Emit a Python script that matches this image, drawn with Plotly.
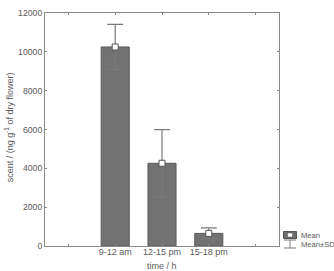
import plotly.graph_objects as go

categories = ["9-12 am", "12-15 pm", "15-18 pm"]
bar_pos = [1, 2, 3]
means = [10250, 4260, 650]
sds = [1160, 1730, 285]
y_ticks = [0, 2000, 4000, 6000, 8000, 10000, 12000]

FONT = "Liberation Sans, Arial, sans-serif"
AX = "#8a8a8a"
TXT = "#5a5a5a"

fig = go.Figure()
fig.add_trace(go.Bar(
    x=bar_pos, y=means, width=0.6,
    marker=dict(color="#727272", line=dict(color="#5a5a5a", width=1)),
    error_y=dict(type="data", array=sds, visible=True, color="#7a7a7a",
                 thickness=1.2, width=8),
    showlegend=False,
))
fig.add_trace(go.Scatter(
    x=bar_pos, y=means, mode="markers",
    marker=dict(symbol="square", size=6, color="white",
                line=dict(color="#555555", width=1)),
    showlegend=False,
))

fig.update_xaxes(
    range=[-0.5, 4.5], tickvals=bar_pos, ticktext=categories,
    ticks="inside", ticklen=2, tickcolor=AX, showline=True, linecolor=AX,
    linewidth=1, mirror="ticks", showgrid=False, zeroline=False,
    minor=dict(tick0=0, dtick=1, ticks="inside", ticklen=2, tickcolor=AX, showgrid=False),
    ticklabelstandoff=-3,
    automargin=False, tickfont=dict(family=FONT, size=9, color=TXT),
)
fig.update_yaxes(
    range=[0, 12000], tickvals=y_ticks, tickformat="d", ticks="inside", ticklen=2,
    tickcolor=AX, showline=True, linecolor=AX, linewidth=1, mirror="ticks",
    showgrid=False, zeroline=False, automargin=False,
    tickfont=dict(family=FONT, size=8.7, color=TXT),
)

W, H = 334, 271
ml, mr, mt, mb = 45, 55, 12.5, 25
pw, ph = W - ml - mr, H - mt - mb
def px(x): return (x - ml) / pw
def py(y): return (H - mb - y) / ph

shapes = [
    dict(type="rect", xref="paper", yref="paper", x0=px(283.5), x1=px(296.5),
         y0=py(238.5), y1=py(231.5), fillcolor="#6e6e6e", line=dict(color="#555555", width=1)),
    dict(type="rect", xref="paper", yref="paper", x0=px(287.5), x1=px(292.5),
         y0=py(237), y1=py(233), fillcolor="white", line=dict(color="#555555", width=0.5)),
    dict(type="line", xref="paper", yref="paper", x0=px(284), x1=px(296),
         y0=py(240), y1=py(240), line=dict(color="#7a7a7a", width=1)),
    dict(type="line", xref="paper", yref="paper", x0=px(290), x1=px(290),
         y0=py(240), y1=py(248), line=dict(color="#7a7a7a", width=1)),
    dict(type="line", xref="paper", yref="paper", x0=px(284), x1=px(296),
         y0=py(248), y1=py(248), line=dict(color="#7a7a7a", width=1)),
]
annotations = [
    dict(text="Mean", xref="paper", yref="paper", x=px(298.5), y=py(235),
         xanchor="left", yanchor="middle", showarrow=False,
         font=dict(family=FONT, size=7.6, color=TXT)),
    dict(text="Mean±SD", xref="paper", yref="paper", x=px(298.5), y=py(244.5),
         xanchor="left", yanchor="middle", showarrow=False,
         font=dict(family=FONT, size=7.6, color=TXT)),
    dict(text="time / h", xref="paper", yref="paper", x=px(162), y=py(266),
         xanchor="center", yanchor="middle", showarrow=False,
         font=dict(family=FONT, size=9, color=TXT)),
    dict(text="scent / (ng g<sup>-1</sup> of dry flower)", xref="paper", yref="paper",
         x=px(9), y=py(127), xanchor="center", yanchor="middle", textangle=-90,
         showarrow=False, font=dict(family=FONT, size=9, color=TXT)),
]

fig.update_layout(
    width=W, height=H, margin=dict(l=ml, r=mr, t=mt, b=mb),
    paper_bgcolor="white", plot_bgcolor="white", showlegend=False,
    shapes=shapes, annotations=annotations,
)
fig.write_html("out.html")
